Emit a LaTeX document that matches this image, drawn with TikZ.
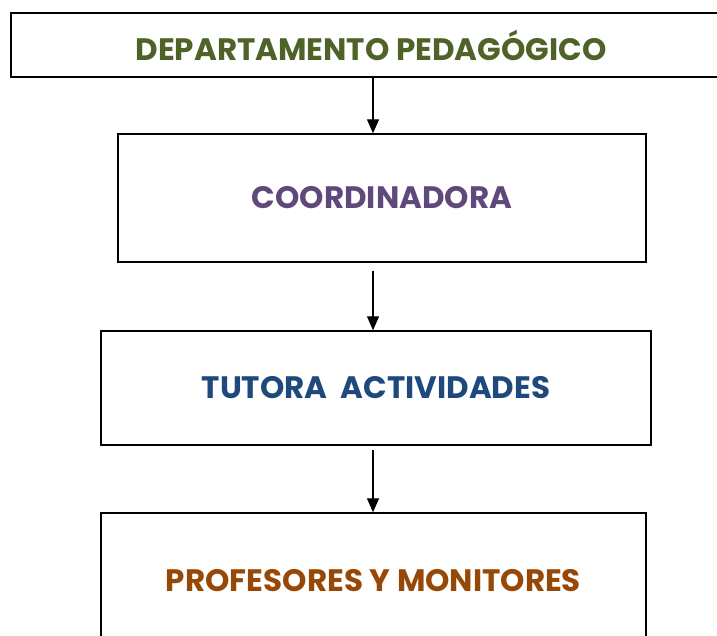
\documentclass[tikz,border=0pt]{standalone}
\usepackage{fontspec}
\setmainfont{Poppins}
\usepackage{xcolor}
\usepackage{tikz}
\usetikzlibrary{arrows.meta,positioning}

\definecolor{deptgreen}{HTML}{4F6228}
\definecolor{coordpurple}{HTML}{5F497A}
\definecolor{tutorblue}{HTML}{1F497D}
\definecolor{profbrown}{HTML}{974806}

\begin{document}
\begin{tikzpicture}[
x=1pt,
y=-1pt,
every node/.style={font=\bfseries\fontsize{31}{37}\selectfont},
level/.style={rectangle,draw=black,line width=1.5pt,fill=white,align=center,inner sep=0pt},
arr/.style={-{Triangle[length=14pt,width=12pt]},line width=1.4pt}
]
\useasboundingbox (0,0) rectangle (717,635);
\node[level,minimum width=720pt,minimum height=64pt,text=deptgreen] (dept) at (371,45) {DEPARTAMENTO PEDAGÓGICO};
\node[level,minimum width=528pt,minimum height=128pt,text=coordpurple] (coord) at (382,198) {COORDINADORA};
\node[level,minimum width=550pt,minimum height=114pt,text=tutorblue] (tutor) at (376,388) {TUTORA\ \ ACTIVIDADES};
\node[level,minimum width=545pt,minimum height=136pt,text=profbrown] (prof) at (373.5,581) {PROFESORES Y MONITORES};

\coordinate (axis) at (373,0);
\draw[arr] (dept.south -| axis) -- (coord.north -| axis);
\draw[arr,shorten <=8pt] (coord.south -| axis) -- (tutor.north -| axis);
\draw[arr,shorten <=4pt] (tutor.south -| axis) -- (prof.north -| axis);
\end{tikzpicture}
\end{document}
